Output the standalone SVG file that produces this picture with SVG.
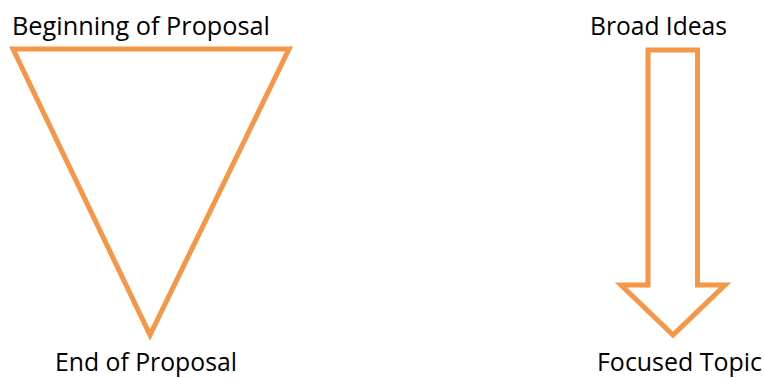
<svg xmlns="http://www.w3.org/2000/svg" width="765" height="378" viewBox="0 0 765 378">
<style>
.shape{fill:none;stroke:#F79646;stroke-width:5;stroke-linejoin:miter;stroke-miterlimit:10}
.lbl{font-family:"Open Sans","Liberation Sans",sans-serif;font-size:25px;fill:#000}
</style>
<rect width="765" height="378" fill="#fff"/>
<g id="funnel">
<polygon class="shape" points="13,49 289,49 150,335"/>
<text class="lbl" x="12" y="35" textLength="258" lengthAdjust="spacingAndGlyphs">Beginning of Proposal</text>
<text class="lbl" x="55" y="371" textLength="182" lengthAdjust="spacingAndGlyphs">End of Proposal</text>
</g>
<g id="arrow">
<polygon class="shape" points="648,50 697.5,50 697.5,285 725,285 673,335 621,285 648,285"/>
<text class="lbl" x="590" y="35" textLength="137" lengthAdjust="spacingAndGlyphs">Broad Ideas</text>
<text class="lbl" x="597" y="371" textLength="165" lengthAdjust="spacingAndGlyphs">Focused Topic</text>
</g>
</svg>
